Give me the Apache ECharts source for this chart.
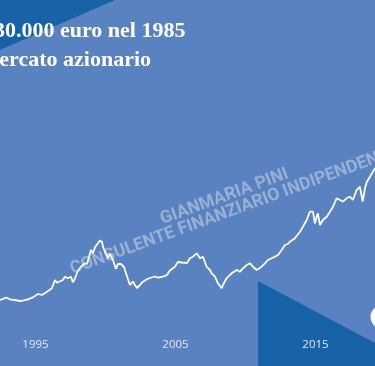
<!DOCTYPE html>
<html><head><meta charset="utf-8">
<script src="https://cdn.jsdelivr.net/npm/echarts@6/dist/echarts.min.js"></script>
<style>html,body{margin:0;padding:0;background:#5882c0}#c{width:375px;height:366px}</style>
</head><body><div id="c"></div>
<script>
// Years (decimal) and portfolio value (thousand euro)
const years = [1992.46,1992.68,1992.89,1993.17,1993.53,1993.89,1994.10,1994.46,1994.82,1995.18,1995.46,1995.82,1996.17,1996.39,1996.53,1996.67,1996.96,1997.10,1997.32,1997.53,1997.67,1997.82,1998.03,1998.25,1998.53,1998.68,1998.96,1999.10,1999.25,1999.46,1999.60,1999.75,1999.82,2000.03,2000.17,2000.32,2000.53,2000.75,2000.89,2001.10,2001.32,2001.46,2001.60,2001.75,2001.96,2002.10,2002.25,2002.46,2002.67,2002.96,2003.17,2003.53,2003.75,2004.10,2004.39,2004.60,2004.96,2005.17,2005.46,2005.60,2005.82,2006.03,2006.25,2006.51,2006.75,2006.96,2007.22,2007.46,2007.58,2007.82,2008.03,2008.30,2008.39,2008.65,2009.01,2009.37,2009.60,2009.82,2010.08,2010.32,2010.53,2010.80,2010.89,2011.15,2011.39,2011.60,2011.87,2012.10,2012.32,2012.58,2012.82,2013.03,2013.17,2013.53,2013.89,2014.10,2014.37,2014.60,2014.72,2014.82,2014.96,2015.08,2015.17,2015.32,2015.53,2015.80,2016.03,2016.25,2016.51,2016.75,2016.96,2017.22,2017.46,2017.67,2017.94,2018.17,2018.37,2018.53,2018.67,2018.89,2019.01,2019.25];
const values = [20,22,25,21.4,20,18,18.6,21.4,25.4,32,30,36.6,43.4,60,54.6,53.4,60,66.6,63.4,66.6,55.4,63.4,78.6,86.6,93.4,92,120,113.4,125.4,133.4,139,136.6,126.6,112,104,112,100,82,92,92,86,74,62,50,57,50,44,50,56.6,61.4,64,67,64.6,66.6,70,79,86.6,96,95,91,94,103.4,106.6,113.4,103.4,106.6,86.6,80,73.4,66.6,53.4,43.4,50,63.4,73.4,80,76.6,83.4,90,93.4,86.6,80,76.6,86.6,93.4,100,103.4,106.6,110,120,130,132,136.6,143.4,156.6,166.6,180,196.6,193.4,196.6,173.4,186.6,193.4,170,180,186.6,196.6,206.6,223.4,220,216.6,223.4,226.6,220,240,246.6,216.6,243.4,256.6,266.6,263.4,283.4];
const tickYears = [1995, 2005, 2015];
const titleLine1 = "30.000 euro nel 1985";
const titleLine2 = "mercato azionario";
const watermark1 = "GIANMARIA PINI";
const watermark2 = "CONSULENTE FINANZIARIO INDIPENDENTE";

const chart = echarts.init(document.getElementById('c'), null, {renderer: 'canvas'});
const wmStyle = {fill: 'rgba(205,215,232,0.55)', font: 'bold 17.5px Roboto, "DejaVu Sans", sans-serif', textAlign: 'left', textVerticalAlign: 'middle'};
const titleFont = 'bold 22px "Liberation Serif", "DejaVu Serif", serif';
chart.setOption({
  backgroundColor: '#5882c0',
  animation: false,
  grid: {left: 0, right: 0, top: 110, bottom: 56},
  xAxis: {
    type: 'value', min: 1992.464, max: 2019.25,
    axisLine: {show: false}, axisTick: {show: false}, splitLine: {show: false},
    axisLabel: {customValues: tickYears, color: '#e3eaf5', fontSize: 11.5, margin: 29,
      fontFamily: '"Open Sans", "Noto Sans", sans-serif', formatter: v => String(v)}
  },
  yAxis: {type: 'value', min: 0, max: 400, show: false, splitLine: {show: false}},
  graphic: [
    {type: 'polygon', z: -10, shape: {points: [[0,0],[115,0],[0,50]]}, style: {fill: '#1862a8'}},
    {type: 'polygon', z: -10, shape: {points: [[258,281],[375,343],[375,366],[258,366]]}, style: {fill: '#1862a8'}},
    {type: 'circle', z: 5, shape: {cx: 382, cy: 317, r: 9}, style: {fill: 'none', stroke: '#ffffff', lineWidth: 5}},
    {type: 'text', z: 5, x: -6, y: 31, style: {text: titleLine1, fill: '#ffffff', font: titleFont, textVerticalAlign: 'middle'}},
    {type: 'text', z: 5, x: -19, y: 60, style: {text: titleLine2, fill: '#ffffff', font: titleFont, textVerticalAlign: 'middle'}},
    {type: 'text', z: 1, x: 161, y: 220, rotation: 0.35, style: Object.assign({text: watermark1}, wmStyle)},
    {type: 'text', z: 1, x: 71, y: 270, rotation: 0.35, style: Object.assign({text: watermark2}, wmStyle)}
  ],
  series: [{
    type: 'line', data: years.map((y, i) => [y, values[i]]), showSymbol: false,
    lineStyle: {color: '#ffffff', width: 1.8}, z: 3
  }]
});
</script></body></html>
